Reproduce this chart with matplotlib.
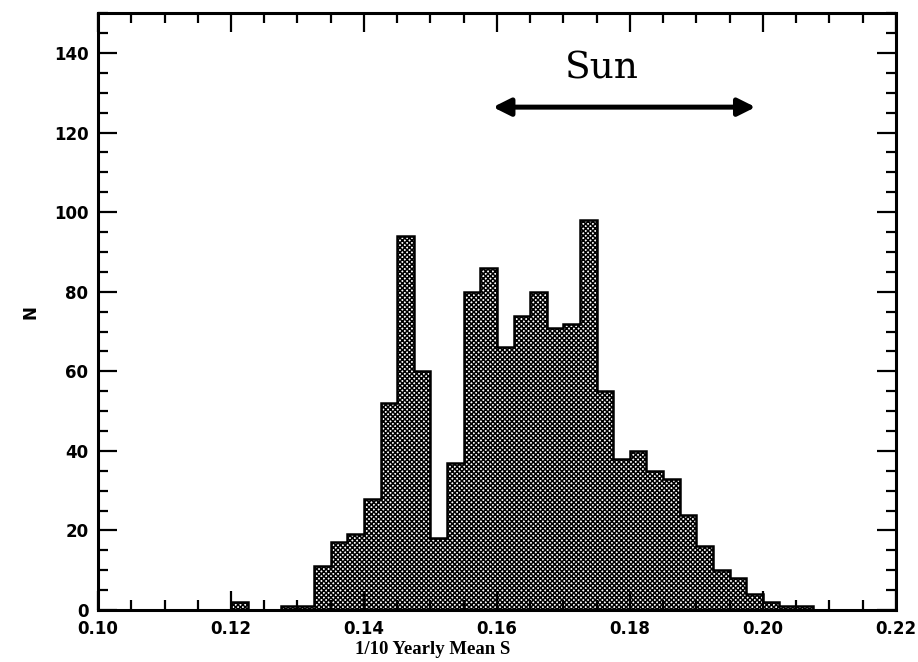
import numpy as np
import matplotlib
matplotlib.use("Agg")
import matplotlib.pyplot as plt
from matplotlib.ticker import MultipleLocator, FormatStrFormatter

# 1/10 yearly mean S histogram: left edge of each bin and its count
bin_left = [0.1200, 0.1225, 0.1250, 0.1275, 0.1300, 0.1325, 0.1350, 0.1375,
            0.1400, 0.1425, 0.1450, 0.1475, 0.1500, 0.1525, 0.1550, 0.1575,
            0.1600, 0.1625, 0.1650, 0.1675, 0.1700, 0.1725, 0.1750, 0.1775,
            0.1800, 0.1825, 0.1850, 0.1875, 0.1900, 0.1925, 0.1950, 0.1975,
            0.2000, 0.2025, 0.2050]
counts = [2, 0, 0, 1, 1, 11, 17, 19,
          28, 52, 94, 60, 18, 37, 80, 86,
          66, 74, 80, 71, 72, 98, 55, 38,
          40, 35, 33, 24, 16, 10, 8, 4,
          2, 1, 1]
bin_width = 0.0025

# solar range marked with the arrow
sun_lo, sun_hi = 0.1594, 0.1989

plt.rcParams['hatch.linewidth'] = 1.1

fig = plt.figure(figsize=(9.18, 6.62), dpi=100)
ax = fig.add_axes([0.1068, 0.0785, 0.869, 0.9015])

# whole histogram as one hatched step patch, so no inner bar edges
edges = bin_left + [bin_left[-1] + bin_width]
ax.stairs(counts, edges, fill=True, facecolor='white', edgecolor='black',
          hatch='xxxxxxx', linewidth=1.8)

ax.set_xlim(0.10, 0.22)
ax.set_ylim(0, 150)

ax.xaxis.set_major_locator(MultipleLocator(0.02))
ax.xaxis.set_minor_locator(MultipleLocator(0.005))
ax.xaxis.set_major_formatter(FormatStrFormatter('%.2f'))
ax.yaxis.set_major_locator(MultipleLocator(20))
ax.yaxis.set_minor_locator(MultipleLocator(5))

ax.tick_params(which='both', direction='in', top=True, right=True, width=1.6)
ax.tick_params(which='major', length=14, labelsize=12)
ax.tick_params(which='minor', length=7)
ax.tick_params(axis='x', pad=7)
ax.tick_params(axis='y', pad=7)
for lab in ax.get_xticklabels() + ax.get_yticklabels():
    lab.set_fontweight('bold')

for sp in ax.spines.values():
    sp.set_linewidth(2.2)

ax.set_xlabel('1/10 Yearly Mean S', family='Liberation Serif',
              fontweight='bold', fontsize=13.5, labelpad=2, x=0.42)
ax.set_ylabel('N', fontweight='bold', fontsize=12, labelpad=10)

ax.annotate('', xy=(sun_lo, 126.4), xytext=(sun_hi, 126.4),
            arrowprops=dict(arrowstyle='<|-|>', color='black', lw=3.6,
                            mutation_scale=26, shrinkA=0, shrinkB=0))
ax.text(0.1758, 133.5, 'Sun', family='DejaVu Serif',
        fontsize=27, ha='center', va='baseline')

fig.savefig('out.png', dpi=100)
